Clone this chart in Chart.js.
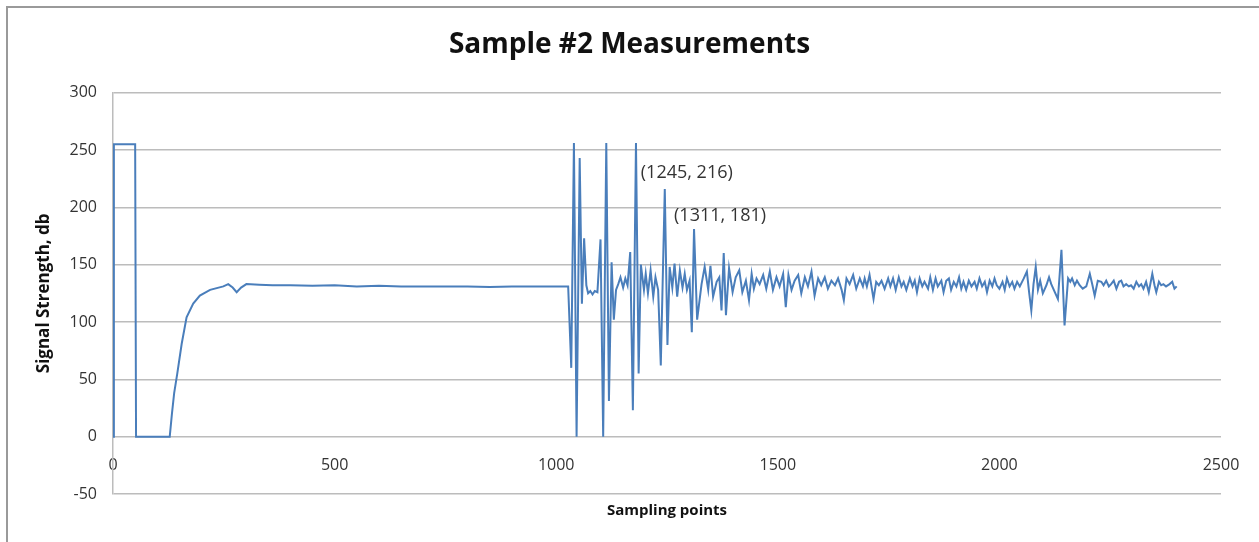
<!DOCTYPE html>
<html>
<head>
<meta charset="utf-8">
<script src="https://cdn.jsdelivr.net/npm/chart.js@4"></script>
<style>
  html, body { margin: 0; padding: 0; background: #fff; }
  #wrap { position: relative; width: 1259px; height: 542px; }
</style>
</head>
<body>
<div id="wrap"><canvas id="signalChart"></canvas></div>
<script>
// sampling point index
const sampleX = [
  0, 2, 50, 52, 128, 133, 138, 145, 155, 166, 181, 196, 219, 249, 260, 270, 279, 289, 301,
  330, 360, 400, 450, 500, 550, 600, 650, 700, 750, 800, 850, 900, 950, 1000, 1027,
  1034, 1040, 1046, 1053, 1058, 1063, 1068, 1072, 1077, 1082, 1087, 1093, 1100, 1106, 1113, 1119,
  1125, 1130, 1135, 1140, 1145, 1151, 1156, 1161, 1167, 1173, 1180, 1186, 1191, 1198, 1202, 1207,
  1213, 1219, 1224, 1230, 1236, 1245, 1251, 1256, 1262, 1267, 1273, 1279, 1285, 1290, 1295, 1301,
  1306, 1311, 1318, 1328, 1335, 1343, 1348, 1354, 1362, 1368, 1373, 1378, 1383, 1390, 1398, 1405,
  1413, 1420, 1428, 1435, 1441, 1446, 1452, 1459, 1467, 1474, 1482, 1489, 1497, 1504, 1512, 1518,
  1524, 1531, 1538, 1546, 1553, 1561, 1568, 1576, 1583, 1591, 1598, 1606, 1613, 1621, 1629, 1636,
  1644, 1649, 1655, 1662, 1670, 1677, 1685, 1692, 1696, 1701, 1707, 1716, 1722, 1728, 1734, 1741,
  1749, 1754, 1760, 1766, 1773, 1779, 1784, 1790, 1798, 1804, 1809, 1814, 1820, 1826, 1831, 1839,
  1844, 1850, 1856, 1861, 1869, 1874, 1880, 1886, 1891, 1897, 1903, 1909, 1914, 1919, 1925, 1931,
  1937, 1944, 1949, 1955, 1961, 1967, 1972, 1978, 1984, 1989, 1994, 2000, 2007, 2012, 2017, 2023,
  2029, 2034, 2040, 2046, 2055, 2062, 2067, 2072, 2077, 2082, 2087, 2092, 2098, 2106, 2112, 2117,
  2125, 2132, 2140, 2147, 2155, 2160, 2164, 2170, 2175, 2181, 2188, 2196, 2204, 2210, 2215, 2222,
  2230, 2235, 2241, 2247, 2252, 2258, 2264, 2270, 2275, 2280, 2286, 2292, 2297, 2303, 2309, 2315,
  2320, 2325, 2331, 2337, 2345, 2350, 2354, 2360, 2365, 2370, 2376, 2384, 2390, 2395, 2400
];
// signal strength, db
const signalDb = [
  0, 255, 255, 0, 0, 20, 38, 55, 81, 104, 116, 123, 128, 131, 133, 130, 126, 130, 133,
  132.5, 132, 132, 131.5, 132, 131, 131.5, 131, 131, 131, 131, 130.5, 131, 131, 131, 131,
  60, 256, 0, 243, 116, 173, 132, 125, 127, 124, 127, 126, 172, 0, 256, 31,
  152, 102, 128, 133, 139, 130, 138, 132, 161, 23, 256, 55, 150, 128, 142, 125,
  145, 122, 139, 128, 62, 216, 80, 148, 130, 151, 122, 145, 130, 142, 128, 136,
  91, 181, 102, 133, 148, 128, 149, 122, 135, 139, 110, 160, 106, 147, 126, 139,
  145, 126, 136, 119, 142, 129, 138, 133, 141, 129, 144, 128, 139, 131, 142, 113,
  141, 128, 136, 141, 125, 139, 131, 144, 123, 138, 132, 139, 129, 136, 132, 138,
  128, 119, 138, 133, 141, 129, 138, 131, 138, 131, 141, 120, 135, 132, 136, 129,
  138, 131, 138, 128, 139, 131, 135, 128, 138, 131, 136, 126, 138, 131, 135, 129,
  139, 128, 138, 131, 136, 126, 136, 138, 128, 135, 131, 139, 129, 135, 128, 136,
  131, 135, 129, 138, 131, 135, 126, 136, 131, 138, 132, 129, 135, 128, 138, 131,
  135, 129, 135, 131, 138, 144, 126, 110, 133, 148, 128, 136, 125, 132, 139, 133,
  126, 120, 163, 97, 138, 135, 138, 132, 136, 132, 129, 131, 142, 132, 123, 136,
  135, 132, 136, 131, 133, 136, 129, 135, 136, 131, 133, 131, 132, 129, 135, 131,
  133, 129, 135, 126, 142, 132, 126, 135, 132, 133, 131, 133, 135, 129, 131
];
const xTicks = [0, 500, 1000, 1500, 2000, 2500];
const yTicks = [-50, 0, 50, 100, 150, 200, 250, 300];
const labelledX = [1245, 1311];

const FONT = "'Open Sans', 'Liberation Sans', sans-serif";
const GRID = '#bcbcbc';
const TEXT = '#333';

// outer frame (left + top edge of the chart object)
const framePlugin = {
  id: 'frame',
  beforeDraw(chart) {
    const ctx = chart.ctx;
    ctx.save();
    ctx.strokeStyle = '#9a9a9a';
    ctx.lineWidth = 2;
    ctx.beginPath();
    ctx.moveTo(7, chart.height);
    ctx.lineTo(7, 7);
    ctx.lineTo(chart.width, 7);
    ctx.stroke();
    ctx.restore();
  }
};

// data labels "(x, y)" next to the two marked peaks
const pointLabels = {
  id: 'pointLabels',
  afterDatasetsDraw(chart) {
    const ctx = chart.ctx;
    const xs = chart.scales.x, ys = chart.scales.y;
    const offsets = [[-24, -16], [-20, -13]];
    ctx.save();
    ctx.font = '18px ' + FONT;
    ctx.fillStyle = TEXT;
    ctx.textAlign = 'left';
    ctx.textBaseline = 'middle';
    labelledX.forEach((lx, i) => {
      const k = sampleX.indexOf(lx);
      if (k < 0) return;
      const px = xs.getPixelForValue(lx), py = ys.getPixelForValue(signalDb[k]);
      ctx.fillText('(' + lx + ', ' + signalDb[k] + ')', px + offsets[i][0], py + offsets[i][1]);
    });
    ctx.restore();
  }
};

const ctx = document.getElementById('signalChart').getContext('2d');
new Chart(ctx, {
  type: 'line',
  data: {
    datasets: [{
      label: 'Sample #2',
      data: sampleX.map((x, i) => ({ x: x, y: signalDb[i] })),
      borderColor: '#4a7ebb',
      borderWidth: 2,
      pointRadius: 0,
      tension: 0,
      fill: false
    }]
  },
  options: {
    responsive: true,
    maintainAspectRatio: false,
    animation: false,
    layout: { padding: 0 },
    plugins: {
      legend: { display: false },
      tooltip: { enabled: false },
      title: {
        display: true,
        text: 'Sample #2 Measurements',
        color: '#111',
        font: { family: FONT, size: 28, weight: 'bold' },
        padding: { top: 28, bottom: 31 }
      }
    },
    scales: {
      // value axis crosses at y = 0, labels sit just under that line
      x: {
        type: 'linear',
        position: { y: 0 },
        min: 0,
        max: 2500,
        afterBuildTicks: s => { s.ticks = xTicks.map(v => ({ value: v })); },
        grid: { display: false, drawTicks: false },
        border: { display: false },
        ticks: {
          color: TEXT, font: { family: FONT, size: 16 }, padding: 19, maxRotation: 0, autoSkip: false,
          callback: v => String(v)
        }
      },
      // carries only the axis title at the bottom edge
      xTitle: {
        type: 'linear',
        position: 'bottom',
        min: 0,
        max: 2500,
        afterFit: s => { s.height = 48; },
        grid: { display: false, drawTicks: false },
        border: { display: false },
        ticks: { display: false },
        title: {
          display: true,
          text: 'Sampling points',
          color: '#111',
          font: { family: FONT, size: 15, weight: 'bold' },
          padding: { top: 0, bottom: 22 }
        }
      },
      y: {
        min: -50,
        max: 300,
        afterBuildTicks: s => { s.ticks = yTicks.map(v => ({ value: v })); },
        afterFit: s => { s.width = 113; },
        grid: { color: GRID, lineWidth: 1.5, drawTicks: false },
        border: { display: true, color: GRID, width: 1.5 },
        ticks: { color: TEXT, font: { family: FONT, size: 16 }, padding: 16 },
        title: {
          display: true,
          text: 'Signal Strength, db',
          color: '#111',
          font: { family: FONT, size: 17, weight: 'bold' },
          padding: { top: 34, bottom: 0 }
        }
      },
      // empty right margin so the chart title centres on the whole frame
      yRight: {
        position: 'right',
        min: -50,
        max: 300,
        afterFit: s => { s.width = 38; },
        grid: { display: false, drawTicks: false },
        border: { display: false },
        ticks: { display: false }
      }
    }
  },
  plugins: [framePlugin, pointLabels]
});
</script>
</body>
</html>
